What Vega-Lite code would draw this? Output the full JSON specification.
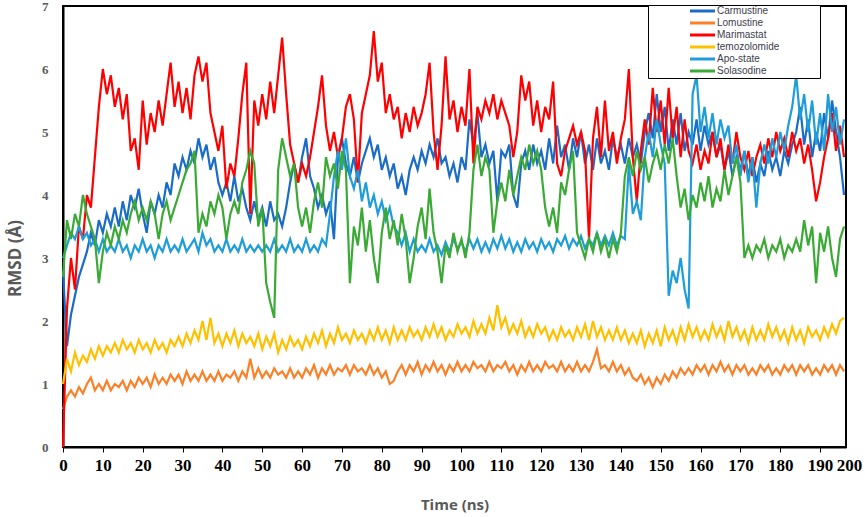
{
"$schema":"https://vega.github.io/schema/vega-lite/v6.json",
"width":783,"height":441,
"autosize":{"type":"none"},
"padding":{"left":63,"top":6,"right":19,"bottom":70},
"background":"white",
"config":{"view":{"stroke":"black","strokeWidth":2}},
"datasets":{
"Carmustine":[{"t":0,"v":2.8},{"t":1,"v":1.6},{"t":2,"v":2.1},{"t":3,"v":2.4},{"t":4,"v":2.7},{"t":5,"v":2.9},{"t":6,"v":3.1},{"t":7,"v":3.4},{"t":8,"v":3.2},{"t":9,"v":3.6},{"t":10,"v":3.4},{"t":11,"v":3.7},{"t":12,"v":3.5},{"t":13,"v":3.8},{"t":14,"v":3.5},{"t":15,"v":3.9},{"t":16,"v":3.6},{"t":17,"v":4.0},{"t":18,"v":3.8},{"t":19,"v":4.1},{"t":20,"v":3.7},{"t":21,"v":3.4},{"t":22,"v":3.9},{"t":23,"v":3.7},{"t":24,"v":4.0},{"t":25,"v":3.8},{"t":26,"v":4.2},{"t":27,"v":4.0},{"t":28,"v":4.5},{"t":29,"v":4.3},{"t":30,"v":4.6},{"t":31,"v":4.4},{"t":32,"v":4.7},{"t":33,"v":4.5},{"t":34,"v":4.9},{"t":35,"v":4.6},{"t":36,"v":4.8},{"t":37,"v":4.4},{"t":38,"v":4.6},{"t":39,"v":4.2},{"t":40,"v":4.0},{"t":41,"v":4.2},{"t":42,"v":3.9},{"t":43,"v":4.3},{"t":44,"v":3.9},{"t":45,"v":4.1},{"t":46,"v":3.8},{"t":47,"v":3.6},{"t":48,"v":3.9},{"t":49,"v":3.6},{"t":50,"v":3.8},{"t":51,"v":3.5},{"t":52,"v":3.9},{"t":53,"v":3.6},{"t":54,"v":3.7},{"t":55,"v":3.5},{"t":56,"v":3.8},{"t":57,"v":4.2},{"t":58,"v":4.5},{"t":59,"v":4.2},{"t":60,"v":4.6},{"t":61,"v":4.9},{"t":62,"v":4.3},{"t":63,"v":4.1},{"t":64,"v":3.8},{"t":65,"v":4.0},{"t":66,"v":3.7},{"t":67,"v":3.9},{"t":68,"v":3.3},{"t":69,"v":4.6},{"t":70,"v":4.9},{"t":71,"v":4.5},{"t":72,"v":4.3},{"t":73,"v":4.6},{"t":74,"v":4.2},{"t":75,"v":4.5},{"t":76,"v":4.7},{"t":77,"v":4.9},{"t":78,"v":4.6},{"t":79,"v":4.8},{"t":80,"v":4.4},{"t":81,"v":4.6},{"t":82,"v":4.3},{"t":83,"v":4.5},{"t":84,"v":4.1},{"t":85,"v":4.3},{"t":86,"v":4.0},{"t":87,"v":4.4},{"t":88,"v":4.6},{"t":89,"v":4.4},{"t":90,"v":4.7},{"t":91,"v":4.5},{"t":92,"v":4.8},{"t":93,"v":4.6},{"t":94,"v":4.9},{"t":95,"v":4.5},{"t":96,"v":4.6},{"t":97,"v":4.3},{"t":98,"v":4.5},{"t":99,"v":4.2},{"t":100,"v":4.6},{"t":101,"v":4.4},{"t":102,"v":5.2},{"t":103,"v":4.8},{"t":104,"v":5.3},{"t":105,"v":4.6},{"t":106,"v":4.8},{"t":107,"v":4.5},{"t":108,"v":4.7},{"t":109,"v":3.9},{"t":110,"v":4.7},{"t":111,"v":4.6},{"t":112,"v":4.8},{"t":113,"v":4.0},{"t":114,"v":3.8},{"t":115,"v":4.5},{"t":116,"v":4.7},{"t":117,"v":4.4},{"t":118,"v":4.8},{"t":119,"v":4.5},{"t":120,"v":4.7},{"t":121,"v":4.4},{"t":122,"v":4.9},{"t":123,"v":4.5},{"t":124,"v":5.1},{"t":125,"v":4.6},{"t":126,"v":4.8},{"t":127,"v":4.4},{"t":128,"v":4.9},{"t":129,"v":4.6},{"t":130,"v":5.0},{"t":131,"v":4.5},{"t":132,"v":4.8},{"t":133,"v":4.4},{"t":134,"v":4.9},{"t":135,"v":4.5},{"t":136,"v":4.7},{"t":137,"v":4.4},{"t":138,"v":4.9},{"t":139,"v":4.6},{"t":140,"v":4.8},{"t":141,"v":4.5},{"t":142,"v":4.9},{"t":143,"v":4.6},{"t":144,"v":4.8},{"t":145,"v":4.5},{"t":146,"v":5.0},{"t":147,"v":5.3},{"t":148,"v":4.9},{"t":149,"v":5.6},{"t":150,"v":5.0},{"t":151,"v":5.4},{"t":152,"v":4.7},{"t":153,"v":5.2},{"t":154,"v":4.8},{"t":155,"v":5.3},{"t":156,"v":4.7},{"t":157,"v":5.0},{"t":158,"v":4.8},{"t":159,"v":5.2},{"t":160,"v":4.7},{"t":161,"v":5.1},{"t":162,"v":4.8},{"t":163,"v":5.0},{"t":164,"v":4.6},{"t":165,"v":4.8},{"t":166,"v":4.4},{"t":167,"v":4.7},{"t":168,"v":4.3},{"t":169,"v":4.6},{"t":170,"v":4.4},{"t":171,"v":4.7},{"t":172,"v":4.3},{"t":173,"v":4.6},{"t":174,"v":4.2},{"t":175,"v":4.5},{"t":176,"v":4.3},{"t":177,"v":4.7},{"t":178,"v":4.4},{"t":179,"v":4.6},{"t":180,"v":4.3},{"t":181,"v":4.7},{"t":182,"v":4.5},{"t":183,"v":4.8},{"t":184,"v":5.0},{"t":185,"v":5.4},{"t":186,"v":4.8},{"t":187,"v":5.2},{"t":188,"v":4.6},{"t":189,"v":5.0},{"t":190,"v":4.7},{"t":191,"v":5.3},{"t":192,"v":4.9},{"t":193,"v":5.5},{"t":194,"v":5.0},{"t":195,"v":4.6},{"t":196,"v":4.0}],
"Lomustine":[{"t":0,"v":0.6},{"t":1,"v":0.8},{"t":2,"v":0.9},{"t":3,"v":0.8},{"t":4,"v":0.95},{"t":5,"v":0.85},{"t":6,"v":1.0},{"t":7,"v":1.1},{"t":8,"v":0.9},{"t":9,"v":1.0},{"t":10,"v":0.9},{"t":11,"v":1.05},{"t":12,"v":0.9},{"t":13,"v":1.0},{"t":14,"v":0.95},{"t":15,"v":1.05},{"t":16,"v":0.9},{"t":17,"v":1.05},{"t":18,"v":0.95},{"t":19,"v":1.1},{"t":20,"v":1.0},{"t":21,"v":1.1},{"t":22,"v":0.95},{"t":23,"v":1.15},{"t":24,"v":1.0},{"t":25,"v":1.1},{"t":26,"v":1.0},{"t":27,"v":1.15},{"t":28,"v":1.05},{"t":29,"v":1.15},{"t":30,"v":1.0},{"t":31,"v":1.2},{"t":32,"v":1.05},{"t":33,"v":1.15},{"t":34,"v":1.05},{"t":35,"v":1.2},{"t":36,"v":1.05},{"t":37,"v":1.15},{"t":38,"v":1.05},{"t":39,"v":1.2},{"t":40,"v":1.05},{"t":41,"v":1.15},{"t":42,"v":1.1},{"t":43,"v":1.2},{"t":44,"v":1.05},{"t":45,"v":1.2},{"t":46,"v":1.1},{"t":47,"v":1.4},{"t":48,"v":1.1},{"t":49,"v":1.25},{"t":50,"v":1.1},{"t":51,"v":1.2},{"t":52,"v":1.1},{"t":53,"v":1.25},{"t":54,"v":1.15},{"t":55,"v":1.2},{"t":56,"v":1.1},{"t":57,"v":1.25},{"t":58,"v":1.1},{"t":59,"v":1.2},{"t":60,"v":1.1},{"t":61,"v":1.25},{"t":62,"v":1.15},{"t":63,"v":1.3},{"t":64,"v":1.1},{"t":65,"v":1.25},{"t":66,"v":1.15},{"t":67,"v":1.3},{"t":68,"v":1.15},{"t":69,"v":1.25},{"t":70,"v":1.2},{"t":71,"v":1.3},{"t":72,"v":1.15},{"t":73,"v":1.3},{"t":74,"v":1.2},{"t":75,"v":1.25},{"t":76,"v":1.15},{"t":77,"v":1.3},{"t":78,"v":1.15},{"t":79,"v":1.25},{"t":80,"v":1.1},{"t":81,"v":1.2},{"t":82,"v":1.0},{"t":83,"v":1.05},{"t":84,"v":1.2},{"t":85,"v":1.3},{"t":86,"v":1.15},{"t":87,"v":1.3},{"t":88,"v":1.2},{"t":89,"v":1.35},{"t":90,"v":1.15},{"t":91,"v":1.3},{"t":92,"v":1.2},{"t":93,"v":1.35},{"t":94,"v":1.2},{"t":95,"v":1.3},{"t":96,"v":1.15},{"t":97,"v":1.3},{"t":98,"v":1.2},{"t":99,"v":1.35},{"t":100,"v":1.2},{"t":101,"v":1.3},{"t":102,"v":1.2},{"t":103,"v":1.35},{"t":104,"v":1.25},{"t":105,"v":1.3},{"t":106,"v":1.2},{"t":107,"v":1.35},{"t":108,"v":1.2},{"t":109,"v":1.3},{"t":110,"v":1.25},{"t":111,"v":1.35},{"t":112,"v":1.2},{"t":113,"v":1.3},{"t":114,"v":1.15},{"t":115,"v":1.3},{"t":116,"v":1.2},{"t":117,"v":1.35},{"t":118,"v":1.2},{"t":119,"v":1.3},{"t":120,"v":1.2},{"t":121,"v":1.35},{"t":122,"v":1.25},{"t":123,"v":1.3},{"t":124,"v":1.2},{"t":125,"v":1.35},{"t":126,"v":1.2},{"t":127,"v":1.3},{"t":128,"v":1.2},{"t":129,"v":1.35},{"t":130,"v":1.2},{"t":131,"v":1.3},{"t":132,"v":1.2},{"t":133,"v":1.35},{"t":134,"v":1.55},{"t":135,"v":1.25},{"t":136,"v":1.3},{"t":137,"v":1.2},{"t":138,"v":1.35},{"t":139,"v":1.2},{"t":140,"v":1.3},{"t":141,"v":1.15},{"t":142,"v":1.25},{"t":143,"v":1.1},{"t":144,"v":1.05},{"t":145,"v":1.15},{"t":146,"v":1.0},{"t":147,"v":1.1},{"t":148,"v":0.95},{"t":149,"v":1.1},{"t":150,"v":1.0},{"t":151,"v":1.15},{"t":152,"v":1.05},{"t":153,"v":1.2},{"t":154,"v":1.1},{"t":155,"v":1.25},{"t":156,"v":1.15},{"t":157,"v":1.25},{"t":158,"v":1.15},{"t":159,"v":1.3},{"t":160,"v":1.2},{"t":161,"v":1.3},{"t":162,"v":1.15},{"t":163,"v":1.3},{"t":164,"v":1.2},{"t":165,"v":1.35},{"t":166,"v":1.2},{"t":167,"v":1.3},{"t":168,"v":1.15},{"t":169,"v":1.3},{"t":170,"v":1.2},{"t":171,"v":1.3},{"t":172,"v":1.15},{"t":173,"v":1.25},{"t":174,"v":1.15},{"t":175,"v":1.3},{"t":176,"v":1.2},{"t":177,"v":1.3},{"t":178,"v":1.15},{"t":179,"v":1.25},{"t":180,"v":1.15},{"t":181,"v":1.3},{"t":182,"v":1.2},{"t":183,"v":1.3},{"t":184,"v":1.15},{"t":185,"v":1.3},{"t":186,"v":1.2},{"t":187,"v":1.3},{"t":188,"v":1.15},{"t":189,"v":1.25},{"t":190,"v":1.15},{"t":191,"v":1.3},{"t":192,"v":1.2},{"t":193,"v":1.3},{"t":194,"v":1.15},{"t":195,"v":1.3},{"t":196,"v":1.2}],
"Marimastat":[{"t":0,"v":0.0},{"t":1,"v":2.2},{"t":2,"v":3.0},{"t":3,"v":2.5},{"t":4,"v":3.5},{"t":5,"v":3.3},{"t":6,"v":4.0},{"t":7,"v":3.8},{"t":8,"v":4.6},{"t":9,"v":5.4},{"t":10,"v":6.0},{"t":11,"v":5.6},{"t":12,"v":5.9},{"t":13,"v":5.4},{"t":14,"v":5.7},{"t":15,"v":5.2},{"t":16,"v":5.6},{"t":17,"v":4.7},{"t":18,"v":4.9},{"t":19,"v":4.4},{"t":20,"v":5.5},{"t":21,"v":4.8},{"t":22,"v":5.3},{"t":23,"v":5.0},{"t":24,"v":5.5},{"t":25,"v":5.1},{"t":26,"v":5.6},{"t":27,"v":6.1},{"t":28,"v":5.4},{"t":29,"v":5.8},{"t":30,"v":5.3},{"t":31,"v":5.7},{"t":32,"v":5.2},{"t":33,"v":5.9},{"t":34,"v":6.2},{"t":35,"v":5.8},{"t":36,"v":6.1},{"t":37,"v":5.3},{"t":38,"v":5.0},{"t":39,"v":4.7},{"t":40,"v":5.1},{"t":41,"v":4.1},{"t":42,"v":4.5},{"t":43,"v":4.3},{"t":44,"v":4.9},{"t":45,"v":5.6},{"t":46,"v":6.1},{"t":47,"v":3.7},{"t":48,"v":5.5},{"t":49,"v":5.1},{"t":50,"v":5.6},{"t":51,"v":5.2},{"t":52,"v":5.8},{"t":53,"v":5.3},{"t":54,"v":5.9},{"t":55,"v":6.5},{"t":56,"v":5.6},{"t":57,"v":4.8},{"t":58,"v":4.5},{"t":59,"v":4.2},{"t":60,"v":4.5},{"t":61,"v":4.3},{"t":62,"v":4.6},{"t":63,"v":5.0},{"t":64,"v":5.4},{"t":65,"v":5.9},{"t":66,"v":5.1},{"t":67,"v":4.7},{"t":68,"v":5.0},{"t":69,"v":4.6},{"t":70,"v":4.9},{"t":71,"v":5.4},{"t":72,"v":5.6},{"t":73,"v":5.2},{"t":74,"v":4.2},{"t":75,"v":5.3},{"t":76,"v":5.6},{"t":77,"v":5.9},{"t":78,"v":6.6},{"t":79,"v":5.8},{"t":80,"v":6.1},{"t":81,"v":5.3},{"t":82,"v":5.6},{"t":83,"v":5.2},{"t":84,"v":5.4},{"t":85,"v":4.9},{"t":86,"v":5.3},{"t":87,"v":5.0},{"t":88,"v":5.4},{"t":89,"v":5.1},{"t":90,"v":5.3},{"t":91,"v":5.6},{"t":92,"v":6.1},{"t":93,"v":5.0},{"t":94,"v":4.4},{"t":95,"v":5.1},{"t":96,"v":6.2},{"t":97,"v":5.2},{"t":98,"v":5.5},{"t":99,"v":5.0},{"t":100,"v":5.4},{"t":101,"v":5.1},{"t":102,"v":6.0},{"t":103,"v":4.5},{"t":104,"v":5.4},{"t":105,"v":5.2},{"t":106,"v":5.5},{"t":107,"v":5.3},{"t":108,"v":5.6},{"t":109,"v":5.2},{"t":110,"v":5.5},{"t":111,"v":5.3},{"t":112,"v":5.1},{"t":113,"v":4.6},{"t":114,"v":5.0},{"t":115,"v":5.9},{"t":116,"v":5.5},{"t":117,"v":5.8},{"t":118,"v":5.1},{"t":119,"v":5.5},{"t":120,"v":5.0},{"t":121,"v":5.4},{"t":122,"v":5.2},{"t":123,"v":5.8},{"t":124,"v":4.5},{"t":125,"v":4.3},{"t":126,"v":4.7},{"t":127,"v":4.9},{"t":128,"v":5.1},{"t":129,"v":4.8},{"t":130,"v":5.0},{"t":131,"v":4.7},{"t":132,"v":3.3},{"t":133,"v":4.9},{"t":134,"v":5.4},{"t":135,"v":4.6},{"t":136,"v":5.5},{"t":137,"v":4.7},{"t":138,"v":5.0},{"t":139,"v":4.5},{"t":140,"v":4.9},{"t":141,"v":5.2},{"t":142,"v":6.0},{"t":143,"v":4.6},{"t":144,"v":3.9},{"t":145,"v":4.7},{"t":146,"v":5.2},{"t":147,"v":4.8},{"t":148,"v":5.7},{"t":149,"v":5.0},{"t":150,"v":5.5},{"t":151,"v":4.8},{"t":152,"v":5.7},{"t":153,"v":4.9},{"t":154,"v":5.4},{"t":155,"v":4.6},{"t":156,"v":5.2},{"t":157,"v":4.7},{"t":158,"v":4.5},{"t":159,"v":4.8},{"t":160,"v":4.4},{"t":161,"v":4.7},{"t":162,"v":4.5},{"t":163,"v":5.0},{"t":164,"v":4.6},{"t":165,"v":4.9},{"t":166,"v":4.4},{"t":167,"v":4.8},{"t":168,"v":4.5},{"t":169,"v":5.0},{"t":170,"v":4.6},{"t":171,"v":4.4},{"t":172,"v":4.7},{"t":173,"v":4.3},{"t":174,"v":4.6},{"t":175,"v":4.8},{"t":176,"v":4.5},{"t":177,"v":4.9},{"t":178,"v":4.6},{"t":179,"v":5.0},{"t":180,"v":4.7},{"t":181,"v":4.9},{"t":182,"v":4.6},{"t":183,"v":5.0},{"t":184,"v":4.7},{"t":185,"v":4.9},{"t":186,"v":4.5},{"t":187,"v":4.8},{"t":188,"v":4.4},{"t":189,"v":3.9},{"t":190,"v":4.2},{"t":191,"v":4.6},{"t":192,"v":4.9},{"t":193,"v":5.3},{"t":194,"v":4.7},{"t":195,"v":5.1},{"t":196,"v":4.6}],
"temozolomide":[{"t":0,"v":1.0},{"t":1,"v":1.4},{"t":2,"v":1.2},{"t":3,"v":1.5},{"t":4,"v":1.3},{"t":5,"v":1.45},{"t":6,"v":1.35},{"t":7,"v":1.55},{"t":8,"v":1.4},{"t":9,"v":1.6},{"t":10,"v":1.45},{"t":11,"v":1.6},{"t":12,"v":1.5},{"t":13,"v":1.65},{"t":14,"v":1.5},{"t":15,"v":1.7},{"t":16,"v":1.55},{"t":17,"v":1.65},{"t":18,"v":1.5},{"t":19,"v":1.7},{"t":20,"v":1.55},{"t":21,"v":1.65},{"t":22,"v":1.5},{"t":23,"v":1.7},{"t":24,"v":1.55},{"t":25,"v":1.65},{"t":26,"v":1.5},{"t":27,"v":1.7},{"t":28,"v":1.6},{"t":29,"v":1.75},{"t":30,"v":1.6},{"t":31,"v":1.8},{"t":32,"v":1.65},{"t":33,"v":1.85},{"t":34,"v":1.7},{"t":35,"v":2.0},{"t":36,"v":1.7},{"t":37,"v":2.05},{"t":38,"v":1.65},{"t":39,"v":1.8},{"t":40,"v":1.6},{"t":41,"v":1.8},{"t":42,"v":1.65},{"t":43,"v":1.85},{"t":44,"v":1.6},{"t":45,"v":1.8},{"t":46,"v":1.65},{"t":47,"v":1.75},{"t":48,"v":1.6},{"t":49,"v":1.8},{"t":50,"v":1.55},{"t":51,"v":1.75},{"t":52,"v":1.6},{"t":53,"v":1.8},{"t":54,"v":1.5},{"t":55,"v":1.7},{"t":56,"v":1.55},{"t":57,"v":1.75},{"t":58,"v":1.6},{"t":59,"v":1.7},{"t":60,"v":1.55},{"t":61,"v":1.75},{"t":62,"v":1.6},{"t":63,"v":1.8},{"t":64,"v":1.65},{"t":65,"v":1.85},{"t":66,"v":1.6},{"t":67,"v":1.8},{"t":68,"v":1.65},{"t":69,"v":1.9},{"t":70,"v":1.7},{"t":71,"v":1.8},{"t":72,"v":1.65},{"t":73,"v":1.85},{"t":74,"v":1.7},{"t":75,"v":1.8},{"t":76,"v":1.65},{"t":77,"v":1.85},{"t":78,"v":1.7},{"t":79,"v":1.9},{"t":80,"v":1.7},{"t":81,"v":1.85},{"t":82,"v":1.65},{"t":83,"v":1.9},{"t":84,"v":1.7},{"t":85,"v":1.85},{"t":86,"v":1.7},{"t":87,"v":1.9},{"t":88,"v":1.75},{"t":89,"v":1.85},{"t":90,"v":1.7},{"t":91,"v":1.9},{"t":92,"v":1.75},{"t":93,"v":1.95},{"t":94,"v":1.75},{"t":95,"v":1.9},{"t":96,"v":1.7},{"t":97,"v":1.85},{"t":98,"v":1.75},{"t":99,"v":1.95},{"t":100,"v":1.8},{"t":101,"v":1.9},{"t":102,"v":1.75},{"t":103,"v":2.0},{"t":104,"v":1.8},{"t":105,"v":1.95},{"t":106,"v":1.8},{"t":107,"v":2.05},{"t":108,"v":1.85},{"t":109,"v":2.25},{"t":110,"v":1.9},{"t":111,"v":2.05},{"t":112,"v":1.8},{"t":113,"v":1.95},{"t":114,"v":1.8},{"t":115,"v":2.0},{"t":116,"v":1.75},{"t":117,"v":1.9},{"t":118,"v":1.75},{"t":119,"v":1.95},{"t":120,"v":1.8},{"t":121,"v":1.9},{"t":122,"v":1.7},{"t":123,"v":1.85},{"t":124,"v":1.7},{"t":125,"v":1.9},{"t":126,"v":1.75},{"t":127,"v":1.85},{"t":128,"v":1.7},{"t":129,"v":1.9},{"t":130,"v":1.75},{"t":131,"v":1.95},{"t":132,"v":1.7},{"t":133,"v":2.0},{"t":134,"v":1.75},{"t":135,"v":1.9},{"t":136,"v":1.7},{"t":137,"v":1.85},{"t":138,"v":1.7},{"t":139,"v":1.9},{"t":140,"v":1.7},{"t":141,"v":1.85},{"t":142,"v":1.65},{"t":143,"v":1.8},{"t":144,"v":1.65},{"t":145,"v":1.85},{"t":146,"v":1.6},{"t":147,"v":1.8},{"t":148,"v":1.65},{"t":149,"v":1.85},{"t":150,"v":1.6},{"t":151,"v":1.9},{"t":152,"v":1.7},{"t":153,"v":1.85},{"t":154,"v":1.65},{"t":155,"v":1.9},{"t":156,"v":1.7},{"t":157,"v":1.95},{"t":158,"v":1.75},{"t":159,"v":1.9},{"t":160,"v":1.7},{"t":161,"v":1.85},{"t":162,"v":1.7},{"t":163,"v":1.95},{"t":164,"v":1.75},{"t":165,"v":1.9},{"t":166,"v":1.7},{"t":167,"v":2.0},{"t":168,"v":1.75},{"t":169,"v":1.9},{"t":170,"v":1.7},{"t":171,"v":1.85},{"t":172,"v":1.65},{"t":173,"v":1.9},{"t":174,"v":1.7},{"t":175,"v":1.85},{"t":176,"v":1.7},{"t":177,"v":1.95},{"t":178,"v":1.75},{"t":179,"v":1.9},{"t":180,"v":1.7},{"t":181,"v":1.85},{"t":182,"v":1.65},{"t":183,"v":1.9},{"t":184,"v":1.7},{"t":185,"v":1.85},{"t":186,"v":1.65},{"t":187,"v":1.9},{"t":188,"v":1.75},{"t":189,"v":1.85},{"t":190,"v":1.7},{"t":191,"v":1.9},{"t":192,"v":1.75},{"t":193,"v":1.95},{"t":194,"v":1.8},{"t":195,"v":2.0},{"t":196,"v":2.05}],
"Apo-state":[{"t":0,"v":3.0},{"t":1,"v":3.2},{"t":2,"v":3.4},{"t":3,"v":3.3},{"t":4,"v":3.5},{"t":5,"v":3.3},{"t":6,"v":3.4},{"t":7,"v":3.2},{"t":8,"v":3.3},{"t":9,"v":3.1},{"t":10,"v":3.3},{"t":11,"v":3.1},{"t":12,"v":3.2},{"t":13,"v":3.1},{"t":14,"v":3.3},{"t":15,"v":3.1},{"t":16,"v":3.2},{"t":17,"v":3.0},{"t":18,"v":3.2},{"t":19,"v":3.1},{"t":20,"v":3.3},{"t":21,"v":3.1},{"t":22,"v":3.2},{"t":23,"v":3.0},{"t":24,"v":3.2},{"t":25,"v":3.1},{"t":26,"v":3.3},{"t":27,"v":3.1},{"t":28,"v":3.2},{"t":29,"v":3.1},{"t":30,"v":3.3},{"t":31,"v":3.1},{"t":32,"v":3.2},{"t":33,"v":3.3},{"t":34,"v":3.1},{"t":35,"v":3.4},{"t":36,"v":3.2},{"t":37,"v":3.3},{"t":38,"v":3.1},{"t":39,"v":3.2},{"t":40,"v":3.1},{"t":41,"v":3.3},{"t":42,"v":3.1},{"t":43,"v":3.2},{"t":44,"v":3.1},{"t":45,"v":3.3},{"t":46,"v":3.1},{"t":47,"v":3.2},{"t":48,"v":3.1},{"t":49,"v":3.2},{"t":50,"v":3.1},{"t":51,"v":3.2},{"t":52,"v":3.1},{"t":53,"v":3.3},{"t":54,"v":3.1},{"t":55,"v":3.2},{"t":56,"v":3.1},{"t":57,"v":3.3},{"t":58,"v":3.1},{"t":59,"v":3.2},{"t":60,"v":3.1},{"t":61,"v":3.3},{"t":62,"v":3.1},{"t":63,"v":3.2},{"t":64,"v":3.1},{"t":65,"v":3.3},{"t":66,"v":3.2},{"t":67,"v":3.7},{"t":68,"v":4.3},{"t":69,"v":4.7},{"t":70,"v":4.4},{"t":71,"v":4.9},{"t":72,"v":4.3},{"t":73,"v":4.1},{"t":74,"v":4.4},{"t":75,"v":3.9},{"t":76,"v":4.2},{"t":77,"v":3.8},{"t":78,"v":4.0},{"t":79,"v":3.7},{"t":80,"v":3.9},{"t":81,"v":3.6},{"t":82,"v":3.8},{"t":83,"v":3.5},{"t":84,"v":3.4},{"t":85,"v":3.2},{"t":86,"v":3.4},{"t":87,"v":3.1},{"t":88,"v":3.3},{"t":89,"v":3.1},{"t":90,"v":3.2},{"t":91,"v":3.1},{"t":92,"v":3.3},{"t":93,"v":3.1},{"t":94,"v":3.2},{"t":95,"v":3.05},{"t":96,"v":3.25},{"t":97,"v":3.1},{"t":98,"v":3.3},{"t":99,"v":3.15},{"t":100,"v":3.25},{"t":101,"v":3.1},{"t":102,"v":3.3},{"t":103,"v":3.15},{"t":104,"v":3.3},{"t":105,"v":3.1},{"t":106,"v":3.25},{"t":107,"v":3.1},{"t":108,"v":3.3},{"t":109,"v":3.15},{"t":110,"v":3.35},{"t":111,"v":3.15},{"t":112,"v":3.3},{"t":113,"v":3.1},{"t":114,"v":3.25},{"t":115,"v":3.1},{"t":116,"v":3.3},{"t":117,"v":3.15},{"t":118,"v":3.25},{"t":119,"v":3.1},{"t":120,"v":3.3},{"t":121,"v":3.15},{"t":122,"v":3.25},{"t":123,"v":3.1},{"t":124,"v":3.3},{"t":125,"v":3.2},{"t":126,"v":3.35},{"t":127,"v":3.15},{"t":128,"v":3.3},{"t":129,"v":3.2},{"t":130,"v":3.35},{"t":131,"v":3.15},{"t":132,"v":3.3},{"t":133,"v":3.2},{"t":134,"v":3.4},{"t":135,"v":3.2},{"t":136,"v":3.35},{"t":137,"v":3.2},{"t":138,"v":3.4},{"t":139,"v":3.2},{"t":140,"v":3.35},{"t":141,"v":3.3},{"t":142,"v":4.5},{"t":143,"v":3.7},{"t":144,"v":3.9},{"t":145,"v":3.6},{"t":146,"v":4.6},{"t":147,"v":5.0},{"t":148,"v":4.6},{"t":149,"v":5.2},{"t":150,"v":4.8},{"t":151,"v":4.5},{"t":152,"v":2.4},{"t":153,"v":2.8},{"t":154,"v":2.6},{"t":155,"v":3.0},{"t":156,"v":2.5},{"t":157,"v":2.2},{"t":158,"v":5.6},{"t":159,"v":5.9},{"t":160,"v":5.0},{"t":161,"v":5.4},{"t":162,"v":4.9},{"t":163,"v":5.3},{"t":164,"v":4.8},{"t":165,"v":5.2},{"t":166,"v":4.9},{"t":167,"v":5.1},{"t":168,"v":4.5},{"t":169,"v":4.8},{"t":170,"v":4.3},{"t":171,"v":4.7},{"t":172,"v":4.2},{"t":173,"v":4.6},{"t":174,"v":3.8},{"t":175,"v":4.5},{"t":176,"v":4.8},{"t":177,"v":4.5},{"t":178,"v":4.9},{"t":179,"v":4.6},{"t":180,"v":5.0},{"t":181,"v":4.7},{"t":182,"v":5.1},{"t":183,"v":5.4},{"t":184,"v":5.9},{"t":185,"v":5.2},{"t":186,"v":5.6},{"t":187,"v":5.0},{"t":188,"v":5.5},{"t":189,"v":4.8},{"t":190,"v":5.3},{"t":191,"v":4.7},{"t":192,"v":5.6},{"t":193,"v":5.0},{"t":194,"v":5.4},{"t":195,"v":4.8},{"t":196,"v":5.2}],
"Solasodine":[{"t":0,"v":2.7},{"t":1,"v":3.6},{"t":2,"v":3.3},{"t":3,"v":3.7},{"t":4,"v":3.5},{"t":5,"v":4.0},{"t":6,"v":3.7},{"t":7,"v":3.5},{"t":8,"v":3.3},{"t":9,"v":2.6},{"t":10,"v":3.1},{"t":11,"v":3.4},{"t":12,"v":3.2},{"t":13,"v":3.5},{"t":14,"v":3.3},{"t":15,"v":3.6},{"t":16,"v":3.4},{"t":17,"v":3.7},{"t":18,"v":3.9},{"t":19,"v":3.6},{"t":20,"v":3.8},{"t":21,"v":3.6},{"t":22,"v":3.9},{"t":23,"v":3.7},{"t":24,"v":3.3},{"t":25,"v":3.7},{"t":26,"v":3.9},{"t":27,"v":3.6},{"t":28,"v":3.8},{"t":29,"v":4.0},{"t":30,"v":4.2},{"t":31,"v":4.4},{"t":32,"v":4.5},{"t":33,"v":4.7},{"t":34,"v":3.4},{"t":35,"v":3.7},{"t":36,"v":3.5},{"t":37,"v":3.9},{"t":38,"v":3.7},{"t":39,"v":4.0},{"t":40,"v":3.8},{"t":41,"v":3.3},{"t":42,"v":3.7},{"t":43,"v":3.9},{"t":44,"v":3.7},{"t":45,"v":4.2},{"t":46,"v":4.4},{"t":47,"v":4.7},{"t":48,"v":4.5},{"t":49,"v":3.5},{"t":50,"v":3.8},{"t":51,"v":2.6},{"t":52,"v":2.3},{"t":53,"v":2.05},{"t":54,"v":4.4},{"t":55,"v":4.9},{"t":56,"v":4.6},{"t":57,"v":4.3},{"t":58,"v":4.5},{"t":59,"v":3.8},{"t":60,"v":3.5},{"t":61,"v":3.8},{"t":62,"v":3.4},{"t":63,"v":3.9},{"t":64,"v":4.2},{"t":65,"v":3.8},{"t":66,"v":4.6},{"t":67,"v":4.3},{"t":68,"v":4.5},{"t":69,"v":4.1},{"t":70,"v":4.7},{"t":71,"v":4.4},{"t":72,"v":2.6},{"t":73,"v":3.5},{"t":74,"v":3.2},{"t":75,"v":3.8},{"t":76,"v":3.1},{"t":77,"v":3.6},{"t":78,"v":3.0},{"t":79,"v":2.6},{"t":80,"v":3.4},{"t":81,"v":3.8},{"t":82,"v":3.3},{"t":83,"v":3.6},{"t":84,"v":3.2},{"t":85,"v":3.7},{"t":86,"v":3.3},{"t":87,"v":2.6},{"t":88,"v":3.0},{"t":89,"v":3.5},{"t":90,"v":3.8},{"t":91,"v":3.3},{"t":92,"v":4.1},{"t":93,"v":3.4},{"t":94,"v":3.1},{"t":95,"v":2.6},{"t":96,"v":3.2},{"t":97,"v":3.0},{"t":98,"v":3.4},{"t":99,"v":3.1},{"t":100,"v":3.3},{"t":101,"v":3.0},{"t":102,"v":3.4},{"t":103,"v":4.4},{"t":104,"v":4.8},{"t":105,"v":4.3},{"t":106,"v":4.6},{"t":107,"v":4.4},{"t":108,"v":3.4},{"t":109,"v":3.9},{"t":110,"v":4.2},{"t":111,"v":3.9},{"t":112,"v":4.4},{"t":113,"v":4.0},{"t":114,"v":4.3},{"t":115,"v":4.6},{"t":116,"v":4.4},{"t":117,"v":4.8},{"t":118,"v":4.5},{"t":119,"v":4.7},{"t":120,"v":4.4},{"t":121,"v":3.8},{"t":122,"v":3.5},{"t":123,"v":3.8},{"t":124,"v":3.4},{"t":125,"v":4.2},{"t":126,"v":4.0},{"t":127,"v":4.4},{"t":128,"v":4.7},{"t":129,"v":3.4},{"t":130,"v":3.2},{"t":131,"v":3.0},{"t":132,"v":3.3},{"t":133,"v":3.1},{"t":134,"v":3.4},{"t":135,"v":3.1},{"t":136,"v":3.3},{"t":137,"v":3.0},{"t":138,"v":3.3},{"t":139,"v":3.1},{"t":140,"v":3.4},{"t":141,"v":4.3},{"t":142,"v":4.6},{"t":143,"v":4.3},{"t":144,"v":4.7},{"t":145,"v":4.4},{"t":146,"v":4.6},{"t":147,"v":4.2},{"t":148,"v":4.5},{"t":149,"v":4.7},{"t":150,"v":4.4},{"t":151,"v":4.8},{"t":152,"v":4.5},{"t":153,"v":4.9},{"t":154,"v":4.3},{"t":155,"v":3.8},{"t":156,"v":4.1},{"t":157,"v":3.6},{"t":158,"v":4.0},{"t":159,"v":3.8},{"t":160,"v":4.2},{"t":161,"v":3.9},{"t":162,"v":4.3},{"t":163,"v":3.8},{"t":164,"v":4.1},{"t":165,"v":3.9},{"t":166,"v":4.4},{"t":167,"v":4.0},{"t":168,"v":4.3},{"t":169,"v":4.6},{"t":170,"v":4.2},{"t":171,"v":3.0},{"t":172,"v":3.2},{"t":173,"v":3.0},{"t":174,"v":3.2},{"t":175,"v":3.1},{"t":176,"v":3.3},{"t":177,"v":3.0},{"t":178,"v":3.2},{"t":179,"v":3.1},{"t":180,"v":3.3},{"t":181,"v":3.0},{"t":182,"v":3.2},{"t":183,"v":3.1},{"t":184,"v":3.3},{"t":185,"v":3.1},{"t":186,"v":3.6},{"t":187,"v":3.2},{"t":188,"v":3.5},{"t":189,"v":2.6},{"t":190,"v":3.4},{"t":191,"v":3.1},{"t":192,"v":3.5},{"t":193,"v":3.0},{"t":194,"v":2.7},{"t":195,"v":3.3},{"t":196,"v":3.5}]
},
"encoding":{
"x":{"field":"t","type":"quantitative","scale":{"domain":[0,196.5],"nice":false,"zero":false},
"axis":{"values":[0,10,20,30,40,50,60,70,80,90,100,110,120,130,140,150,160,170,180,190,196.5],"labelExpr":"datum.value == 196.5 ? '200' : datum.label","tickOpacity":{"condition":{"test":"datum.value == 196.5","value":0},"value":1},"labelOffset":{"condition":{"test":"datum.value == 196.5","value":3},"value":0},"labelFlush":false,"labelOverlap":false,"grid":false,"domainColor":"black","domainWidth":2,"tickColor":"black","tickSize":5,"tickWidth":1,"labelFont":"Liberation Serif","labelFontSize":17,"labelFontWeight":"bold","labelColor":"black","labelPadding":5,"title":"Time (ns)","titleFont":"Open Sans","titleFontSize":15,"titleFontWeight":"bold","titleColor":"#595959","titleY":57,"titleBaseline":"middle"}},
"y":{"field":"v","type":"quantitative","scale":{"domain":[0,7],"nice":false},
"axis":{"values":[0,1,2,3,4,5,6,7],"ticks":false,"grid":false,"domainColor":"black","domainWidth":2,"labelFont":"Liberation Serif","labelFontSize":13,"labelFontWeight":"bold","labelColor":"#595959","labelPadding":15,"labelFlush":false,"title":"RMSD (Å)","titleFont":"Open Sans","titleFontSize":17,"titleFontWeight":"bold","titleColor":"#595959","titleAngle":-90,"titleX":-48,"titleY":252,"titleBaseline":"middle"}}
},
"layer":[
{"data":{"name":"Carmustine"},"mark":{"type":"line","strokeWidth":2.2},"encoding":{"color":{"datum":"Carmustine","type":"nominal","scale":{"domain":["Carmustine","Lomustine","Marimastat","temozolomide","Apo-state","Solasodine"],"range":["#1a6cc6","#fb8028","#ff0000","#ffc000","#1e9dd9","#3aaa35"]},"legend":{"title":null,"orient":"none","legendX":585,"legendY":-1,"symbolType":"M36,0H61M159,0","symbolSize":4,"symbolStrokeWidth":3,"labelFont":"Liberation Sans","labelFontSize":10,"labelColor":"#3c3c4c","labelOffset":58,"rowPadding":0,"padding":1,"strokeColor":"black","fillColor":"white"}}}},
{"data":{"name":"Lomustine"},"mark":{"type":"line","strokeWidth":2.2},"encoding":{"color":{"datum":"Lomustine","type":"nominal"}}},
{"data":{"name":"Marimastat"},"mark":{"type":"line","strokeWidth":2.2},"encoding":{"color":{"datum":"Marimastat","type":"nominal"}}},
{"data":{"name":"temozolomide"},"mark":{"type":"line","strokeWidth":2.2},"encoding":{"color":{"datum":"temozolomide","type":"nominal"}}},
{"data":{"name":"Apo-state"},"mark":{"type":"line","strokeWidth":2.2},"encoding":{"color":{"datum":"Apo-state","type":"nominal"}}},
{"data":{"name":"Solasodine"},"mark":{"type":"line","strokeWidth":2.2},"encoding":{"color":{"datum":"Solasodine","type":"nominal"}}}
]
}
